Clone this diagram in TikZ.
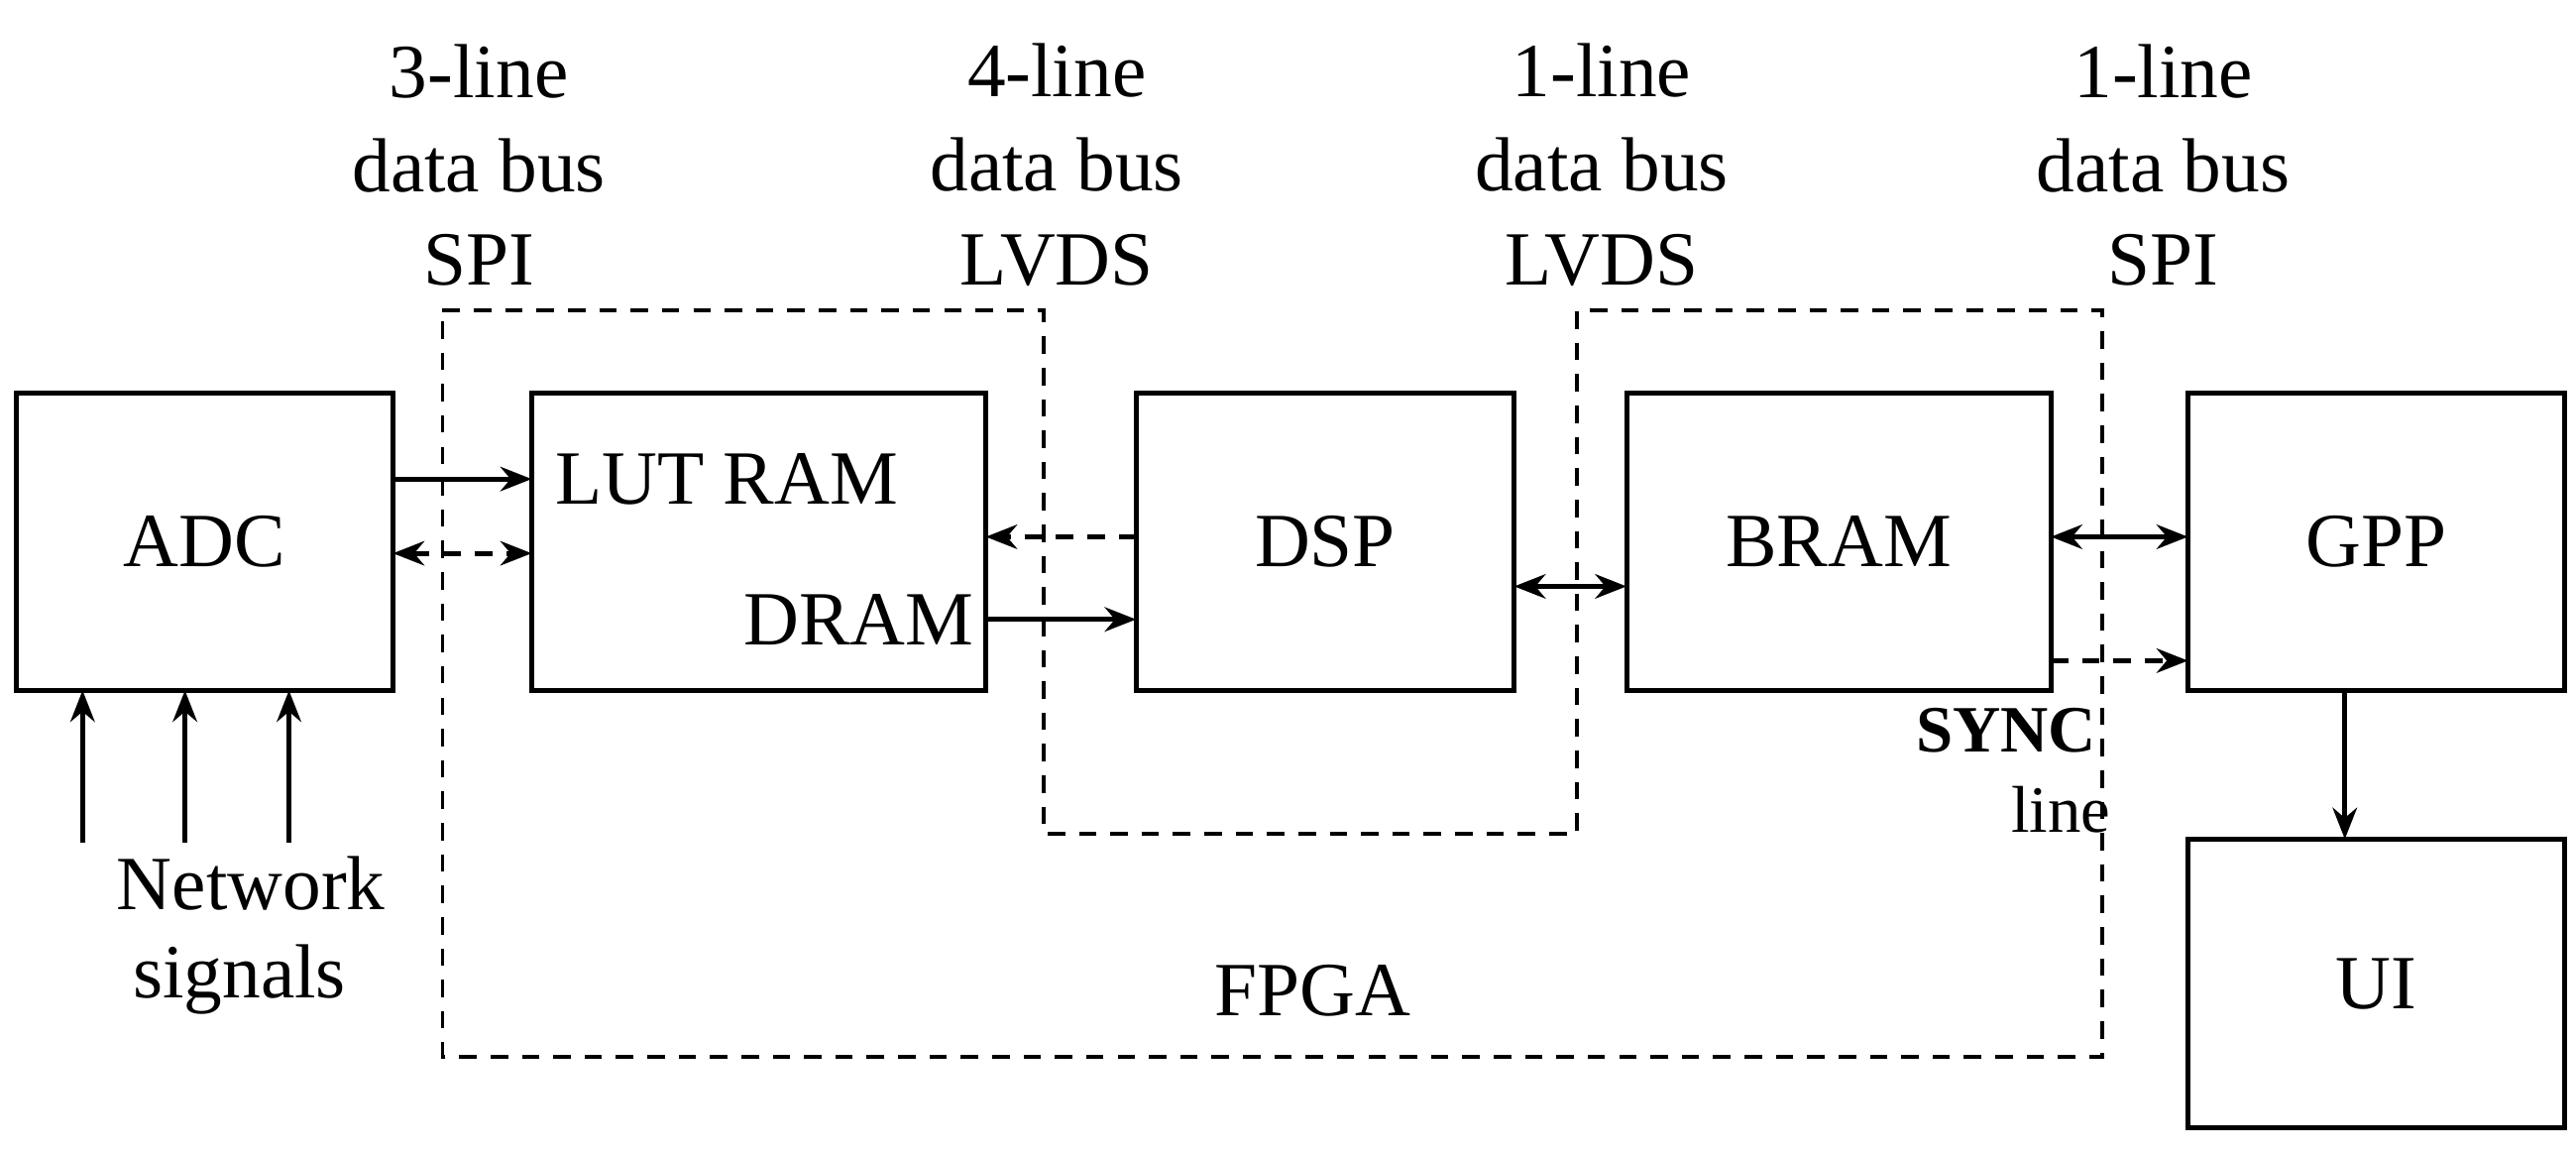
\documentclass[tikz,border=0pt]{standalone}
\usepackage{fontspec}
\setmainfont{Liberation Serif}
\usetikzlibrary{arrows.meta}
\begin{document}
\begin{tikzpicture}[x=0.01666cm,y=-0.01666cm,
  blk/.style={draw,line width=1.4pt},
  dsh/.style={draw,line width=1.1pt,dash pattern=on 5pt off 4pt},
  ar/.style={line width=1.4pt,-{Stealth[length=9pt,width=7pt]}},
  dar/.style={ar,dash pattern=on 5pt off 4pt},
  txt/.style={font=\fontsize{22}{26}\selectfont,inner sep=0pt},
  lbl/.style={font=\fontsize{22}{27}\selectfont,align=center,inner sep=0pt}]
\useasboundingbox (0,0) rectangle (1560,699);
% FPGA dashed outline
\draw[dsh] (268,188) -- (632,188) -- (632,505) -- (955,505) -- (955,188) -- (1273,188) -- (1273,640) -- (268,640) -- cycle;
% blocks
\draw[blk] (10,238) rectangle (238,418) node[midway,txt] (adc) {ADC};
\draw[blk] (322,238) rectangle (597,418);
\draw[blk] (688,238) rectangle (917,418) node[midway,txt] (dsp) {DSP};
\draw[blk] (985,238) rectangle (1242,418) node[midway,txt] (bram) {BRAM};
\draw[blk] (1325,238) rectangle (1553,418) node[midway,txt] (gpp) {GPP};
\draw[blk] (1325,508) rectangle (1553,683) node[midway,txt] (ui) {UI};
\node[txt] (lut) at (440,290) {LUT RAM};
\node[txt] (dram) at (520,375) {DRAM};
% coordinates
\coordinate (a1) at (238,290); \coordinate (l1) at (322,290);
\coordinate (a2) at (238,335); \coordinate (l2) at (322,335);
\coordinate (d1) at (688,325); \coordinate (l3) at (597,325);
\coordinate (l4) at (597,375); \coordinate (d2) at (688,375);
\coordinate (d3) at (917,355); \coordinate (b1) at (985,355);
\coordinate (b2) at (1242,325); \coordinate (g1) at (1325,325);
\coordinate (b3) at (1242,400); \coordinate (g2) at (1325,400);
\coordinate (g3) at (1420,418); \coordinate (u1) at (1420,508);
\draw[ar] (a1) -- (l1);
\draw[dar,{Stealth[length=9pt,width=7pt]}-{Stealth[length=9pt,width=7pt]}] (a2) -- (l2);
\draw[dar] (d1) -- (l3);
\draw[ar] (l4) -- (d2);
\draw[ar,{Stealth[length=9pt,width=7pt]}-{Stealth[length=9pt,width=7pt]}] (d3) -- (b1);
\draw[ar,{Stealth[length=9pt,width=7pt]}-{Stealth[length=9pt,width=7pt]}] (b2) -- (g1);
\draw[dar] (b3) -- (g2);
\draw[ar] (g3) -- (u1);
\foreach \x/\n in {50/n1,112/n2,175/n3}{
  \coordinate (\n s) at (\x,510); \coordinate (\n e) at (\x,418);
  \draw[ar] (\n s) -- (\n e);}
% labels
\node[txt] (net1) at (152,535) {Network};
\node[txt] (net2) at (145,593) {signals};
\node[txt] (fpga) at (795,600) {FPGA};
\node[txt,font=\fontsize{19}{22}\selectfont\bfseries] (sync) at (1215,442) {SYNC};
\node[txt,font=\fontsize{19}{22}\selectfont] (line) at (1248,490) {line};
\node[lbl] (t1) at (290,100) {3-line\\data bus\\SPI};
\node[lbl] (t2) at (640,100) {4-line\\data bus\\LVDS};
\node[lbl] (t3) at (970,100) {1-line\\data bus\\LVDS};
\node[lbl] (t4) at (1310,100) {1-line\\data bus\\SPI};
\end{tikzpicture}
\end{document}
